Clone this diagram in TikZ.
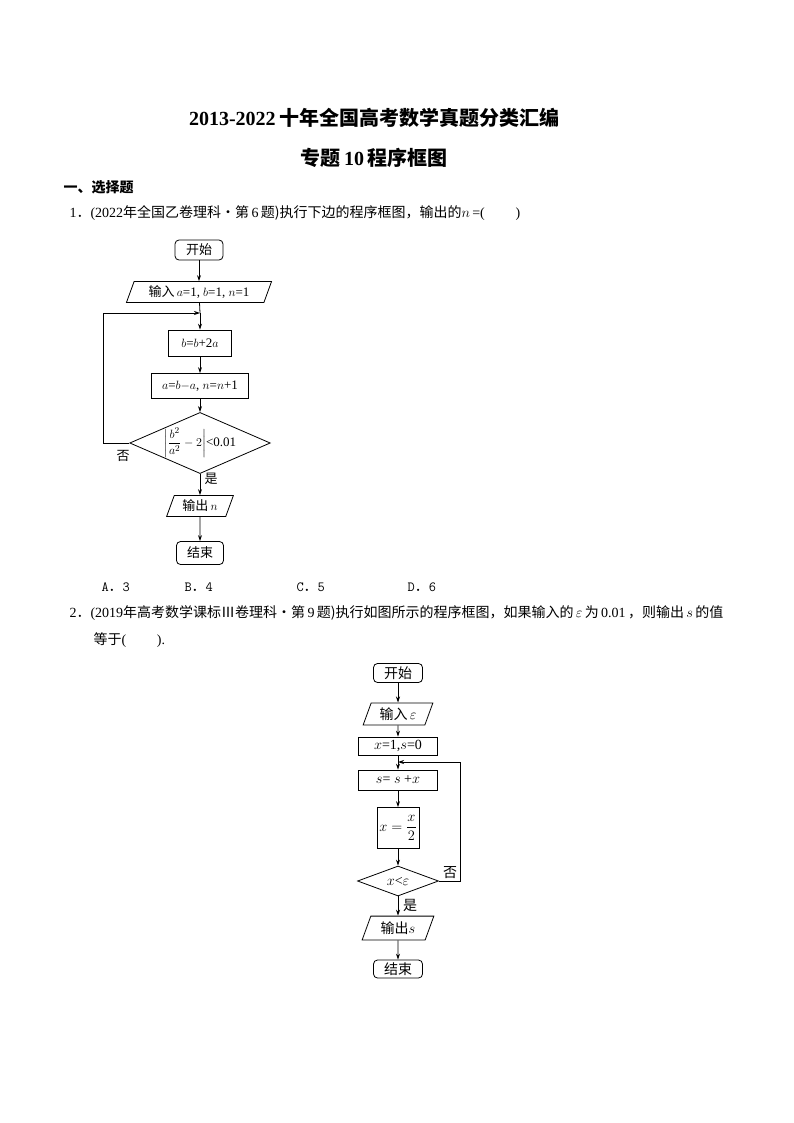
\documentclass[tikz,border=0pt]{standalone}
\usepackage{amsmath}
\usepackage{fontspec}
\setmainfont{Liberation Serif}
\newfontfamily\cjk{Noto Sans CJK SC}
\newcommand\zh[1]{{\cjk #1}}
\usetikzlibrary{shapes.geometric,arrows.meta}
\begin{document}
\begin{tikzpicture}[x=1pt,y=-1pt,
  box/.style={draw,thick,minimum height=#1,inner sep=2pt},
  box/.default=20,
  term/.style={draw,thick,rounded corners=4pt,inner sep=2pt},
  io/.style={draw,thick,trapezium,trapezium left angle=70,trapezium right angle=110,inner sep=2pt},
  dec/.style={draw,thick,diamond,aspect=2.3,inner sep=0pt},
  arr/.style={-{Stealth[length=6pt,width=4pt]},thick},
  ln/.style={thick},
  fs/.style={font=\fontsize{13}{15}\selectfont},
  fs2/.style={font=\fontsize{14}{16}\selectfont}]
\useasboundingbox (0,0) rectangle (794,1123);
% headers
\node (t1) at (374,118) {\fontsize{20}{22}\selectfont\bfseries 2013-2022\,\zh{十年全国高考数学真题分类汇编}};
\node (t2) at (374,158) {\fontsize{20}{22}\selectfont\bfseries \zh{专题}\,10\,\zh{程序框图}};
\node[anchor=west,font=\fontsize{14}{16}\selectfont\bfseries] (h1) at (60,187) {\zh{一、选择题}};
\node[anchor=west,fs2] (q1) at (66,213) {1\zh{．}(2022\zh{年全国乙卷理科·第}\,6\,\zh{题}\zh{)执行下边的程序框图，输出的}$n$\,=(\hspace{2.2em})};
% chart 1
\node[term,fs,minimum width=48,minimum height=20] (a1) at (199,250) {\zh{开始}};
\node[io,fs,minimum width=130,minimum height=21] (a2) at (199,292) {\zh{输入}\,$a$=1, $b$=1, $n$=1};
\node[box=26,fs,minimum width=63] (a3) at (200,343) {$b$=$b$+2$a$};
\node[box=25,fs,minimum width=97] (a4) at (200,386) {$a$=$b$$-$$a$, $n$=$n$+1};
\node[dec,fs,minimum width=123,minimum height=53] (a5) at (200,443) {$\left|\dfrac{b^2}{a^2}-2\right|$<0.01};
\node[io,fs,minimum width=66,minimum height=21] (a6) at (200,506) {\zh{输出}\,$n$};
\node[term,fs,minimum width=47,minimum height=23] (a7) at (200,553) {\zh{结束}};
\coordinate (c1) at (200,313);
\draw[arr] (a1) -- (a2);
\draw[ln] (a2) -- (c1);
\draw[arr] (c1) -- (a3);
\draw[arr] (a3) -- (a4);
\draw[arr] (a4) -- (a5);
\draw[arr] (a5) -- (a6);
\draw[arr] (a6) -- (a7);
\draw[arr] (a5.west) -| (103,313) -- (c1);
\node[fs] (n1) at (123,456) {\zh{否}};
\node[fs] (y1) at (211,479) {\zh{是}};
\node[anchor=west,font=\ttfamily\fontsize{14}{16}\selectfont] (A1) at (98,587) {A\zh{．}3};
\node[anchor=west,font=\ttfamily\fontsize{14}{16}\selectfont] (B1) at (181,587) {B\zh{．}4};
\node[anchor=west,font=\ttfamily\fontsize{14}{16}\selectfont] (C1) at (293,587) {C\zh{．}5};
\node[anchor=west,font=\ttfamily\fontsize{14}{16}\selectfont] (D1) at (404,587) {D\zh{．}6};
% question 2
\node[anchor=west,fs2] (q2) at (66,613) {2\zh{．}(2019\zh{年高考数学课标Ⅲ卷理科·第}\,9\,\zh{题)执行如图所示的程序框图，如果输入的}\,$\varepsilon$\,\zh{为}\,0.01\,\zh{，则输出}\,$s$\,\zh{的值}};
\node[anchor=west,fs2] (q2b) at (90,640) {\zh{等于}(\hspace{2.2em}).};
% chart 2
\node[term,fs2,minimum width=49,minimum height=19] (b1) at (398,673) {\zh{开始}};
\node[io,fs2,minimum width=70,minimum height=18] (b2) at (398,714) {\zh{输入}\,$\varepsilon$};
\node[box=18,fs2,minimum width=79] (b3) at (398,746) {$x$=1,$s$=0};
\node[box=20,fs2,minimum width=79] (b4) at (398,780) {$s$= $s$ +$x$};
\node[box=41,fs2,minimum width=42] (b5) at (398,828) {$x=\dfrac{x}{2}$};
\node[dec,fs2,minimum width=81,minimum height=30,aspect=2.7] (b6) at (398,881) {$x$<$\varepsilon$};
\node[io,fs2,minimum width=72,minimum height=19] (b7) at (398,928) {\zh{输出}$s$};
\node[term,fs2,minimum width=49,minimum height=18] (b8) at (398,969) {\zh{结束}};
\coordinate (c2) at (398,762);
\draw[arr] (b1) -- (b2);
\draw[arr] (b2) -- (b3);
\draw[ln] (b3) -- (c2);
\draw[arr] (c2) -- (b4);
\draw[arr] (b4) -- (b5);
\draw[arr] (b5) -- (b6);
\draw[arr] (b6) -- (b7);
\draw[arr] (b7) -- (b8);
\draw[arr] (b6.east) -| (460,762) -- (c2);
\node[fs2] (n2) at (450,873) {\zh{否}};
\node[fs2] (y2) at (410,905) {\zh{是}};
\end{tikzpicture}
\end{document}
